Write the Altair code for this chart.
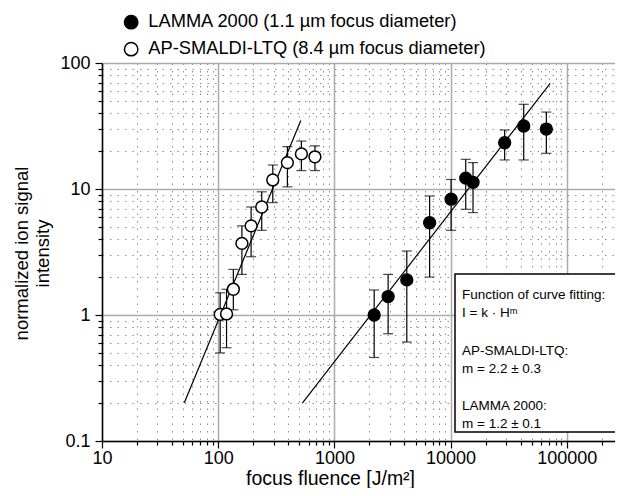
import altair as alt
import pandas as pd

FONT = "Liberation Sans"

# ---- data ----
lamma_label = "LAMMA 2000 (1.1 µm focus diameter)"
ap_label = "AP-SMALDI-LTQ (8.4 µm focus diameter)"

lamma_x = [2200, 2900, 4200, 6600, 10100, 13500, 15600, 29200, 42600, 66700]
lamma_y = [1.0, 1.4, 1.9, 5.4, 8.3, 12.2, 11.3, 23.3, 31.6, 29.9]
lamma_lo = [0.46, 0.71, 0.61, 2.0, 4.7, 6.9, 6.5, 17.0, 17.0, 19.2]
lamma_hi = [1.58, 2.1, 3.22, 8.8, 11.9, 17.2, 16.2, 29.4, 47.0, 40.8]

ap_x = [104, 118, 135, 160, 192, 237, 295, 394, 520, 680]
ap_y = [1.01, 1.02, 1.6, 3.7, 5.1, 7.2, 11.8, 16.2, 19.0, 18.0]
ap_lo = [0.5, 0.55, 1.1, 2.1, 2.9, 4.7, 7.8, 10.4, 14.0, 14.0]
ap_hi = [1.5, 1.6, 2.3, 5.1, 7.2, 9.5, 15.5, 21.7, 24.0, 22.0]

fit_ap_x = [51, 514]
fit_ap_y = [0.2, 35]
fit_lamma_x = [530, 72000]
fit_lamma_y = [0.2, 69]

x_ticks = [10, 20, 30, 40, 50, 60, 70, 80, 90,
           100, 200, 300, 400, 500, 600, 700, 800, 900,
           1000, 2000, 3000, 4000, 5000, 6000, 7000, 8000, 9000,
           10000, 20000, 30000, 40000, 50000, 60000, 70000, 80000, 90000,
           100000, 200000]
y_ticks = [0.1, 0.2, 0.3, 0.4, 0.5, 0.6, 0.7, 0.8, 0.9,
           1, 2, 3, 4, 5, 6, 7, 8, 9,
           10, 20, 30, 40, 50, 60, 70, 80, 90, 100]

box_lines = ["Function of curve fitting:", "I = k · Hᵐ",
             "AP-SMALDI-LTQ:", "m = 2.2 ± 0.3",
             "LAMMA 2000:", "m = 1.2 ± 0.1"]

# ---- tables ----
pts = pd.concat([
    pd.DataFrame({"x": lamma_x, "y": lamma_y, "lo": lamma_lo, "hi": lamma_hi, "series": lamma_label}),
    pd.DataFrame({"x": ap_x, "y": ap_y, "lo": ap_lo, "hi": ap_hi, "series": ap_label}),
], ignore_index=True)
fits = pd.concat([
    pd.DataFrame({"x": fit_lamma_x, "y": fit_lamma_y, "series": lamma_label}),
    pd.DataFrame({"x": fit_ap_x, "y": fit_ap_y, "series": ap_label}),
], ignore_index=True)

W, H = 513, 378
major = "abs(log(datum.value)/LN10 - round(log(datum.value)/LN10)) < 0.001"

def cond(a, b):
    return {"condition": {"test": major, "value": a}, "value": b}

xscale = alt.Scale(type="log", domain=[10, 260000], nice=False)
yscale = alt.Scale(type="log", domain=[0.1, 100], nice=False)

common_axis = dict(
    grid=True,
    gridColor=cond("#ababab", "#8f8f8f"),
    gridDash=cond([1, 0], [1.5, 6]),
    gridWidth=cond(1.5, 1),
    tickSize=cond(7, 4),
    tickColor="black", tickWidth=1.2,
    domainColor="black", domainWidth=1.5,
    labelFont=FONT, labelFontSize=18, labelColor="black",
    labelOverlap=False, labelFlush=False,
    titleFont=FONT, titleFontWeight="normal", titleColor="black",
)

xaxis = alt.Axis(values=x_ticks,
                 labelExpr=f"{major} ? '' + datum.value : ''",
                 labelPadding=1,
                 title="focus fluence [J/m²]", titleFontSize=19.5,
                 titleX=228, titleY=37.5, titleAlign="center", titleBaseline="middle",
                 **common_axis)
yaxis = alt.Axis(values=y_ticks,
                 labelExpr=f"{major} ? '' + datum.value : ''",
                 labelPadding=5,
                 title=["normalized ion signal", "intensity"], titleFontSize=18.5,
                 titleAngle=270, titleX=-81, titleY=190, titleAlign="center",
                 titleBaseline="middle", titleLineHeight=21,
                 **common_axis)

def X(field):
    return alt.X(f"{field}:Q", scale=xscale, axis=xaxis)

def Y(field):
    return alt.Y(f"{field}:Q", scale=yscale, axis=yaxis)

base = alt.Chart(pts)

err = base.mark_rule(color="black", strokeWidth=1.2).encode(
    x=X("x"), y=Y("lo"), y2="hi")
cap_lo = base.mark_tick(orient="horizontal", color="black", size=10, thickness=1.2).encode(
    x=X("x"), y=Y("lo"))
cap_hi = base.mark_tick(orient="horizontal", color="black", size=10, thickness=1.2).encode(
    x=X("x"), y=Y("hi"))

fit = alt.Chart(fits).mark_line(color="black", strokeWidth=1.2).encode(
    x=X("x"), y=Y("y"), detail="series:N")

points = base.mark_point(shape="circle", size=140, stroke="black", strokeWidth=1.5,
                         opacity=1, filled=False).encode(
    x=X("x"), y=Y("y"),
    fill=alt.Fill("series:N",
                  scale=alt.Scale(domain=[lamma_label, ap_label], range=["black", "white"]),
                  legend=alt.Legend(title=None, orient="none", legendX=20, legendY=-50,
                                    labelFont=FONT, labelFontSize=18.3, labelColor="black",
                                    labelLimit=0, labelOffset=8,
                                    symbolType="circle", symbolSize=180,
                                    symbolStrokeColor="black", symbolStrokeWidth=1.5,
                                    symbolOpacity=1, rowPadding=7, padding=0)),
)

box = alt.Chart(pd.DataFrame({"k": [0]})).mark_rect(
    fill="white", stroke="black", strokeWidth=1.5).encode(
    x=alt.value(353), x2=alt.value(516), y=alt.value(211), y2=alt.value(369))

line_y = [232, 250, 288, 306, 343, 361]
texts = []
for txt, yy in zip(box_lines, line_y):
    texts.append(alt.Chart(pd.DataFrame({"t": [txt]})).mark_text(
        align="left", baseline="middle", font=FONT, fontSize=13.5, color="black").encode(
        x=alt.value(360), y=alt.value(yy), text="t:N"))

chart = alt.layer(err, cap_lo, cap_hi, fit, points, box, *texts).properties(
    width=W, height=H,
    autosize=alt.AutoSizeParams(type="none"),
    padding={"left": 94, "top": 55, "right": 0, "bottom": 47},
).configure_view(stroke=None)

chart.save("out.html", embed_options={"renderer": "svg", "actions": False})
